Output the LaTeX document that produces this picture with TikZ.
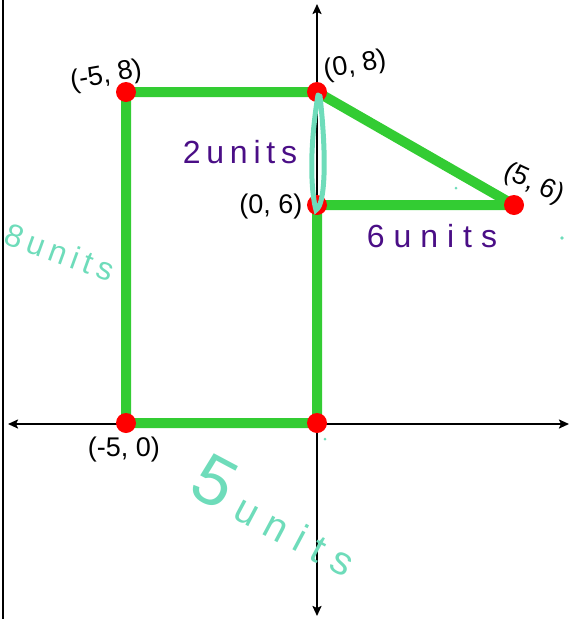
\documentclass[tikz,border=0pt]{standalone}
\usepackage{fontspec}
\setmainfont{Liberation Sans}
\newfontfamily\handfont[LetterSpace=18]{Liberation Sans}
\newfontfamily\widehand[LetterSpace=28]{Liberation Sans}
\usetikzlibrary{arrows.meta}
\definecolor{pgreen}{HTML}{33CC33}
\definecolor{pred}{HTML}{FF0000}
\definecolor{pteal}{HTML}{6EDCBA}
\definecolor{ppurple}{HTML}{4A0E86}

\begin{document}
\begin{tikzpicture}[x=1pt,y=-1pt,
    dot/.style={circle,fill=pred,inner sep=0pt,minimum size=20pt},
    side/.style={pgreen,line width=10pt,line join=round},
    axis/.style={{Stealth[length=10pt,width=9pt,inset=2pt]}-{Stealth[length=10pt,width=9pt,inset=2pt]},line width=2.4pt},
    lbl/.style={font=\fontsize{27}{32}\selectfont,inner sep=1pt},
    hand/.style={font=\handfont\fontsize{32}{36}\selectfont}]
  \useasboundingbox (0,0) rectangle (570,619);

  % Left edge
  \draw[line width=2.4pt] (3,0) -- (3,619);

  % Axes
  \coordinate (xl) at (8,424);
  \coordinate (xr) at (569,424);
  \coordinate (yt) at (317,4);
  \coordinate (yb) at (317,616);
  \draw[axis] (xl) -- (xr);
  \draw[axis] (yt) -- (yb);

  % Corners
  \coordinate (ptA) at (126,92);
  \coordinate (ptB) at (317,92);
  \coordinate (ptC) at (317,205);
  \coordinate (ptD) at (514,205);
  \coordinate (ptE) at (126,423);
  \coordinate (ptO) at (317,423);

  % Outline
  \draw[side] (ptB) -- (ptA) -- (ptE) -- (ptO) -- (ptC) -- (ptD) -- cycle;

  % Points
  \foreach \p in {ptA,ptB,ptC,ptD,ptE,ptO}
    \node[dot] (d\p) at (\p) {};

  % Point labels
  \node[lbl,rotate=10] (lA) at (106,76) {(-5, 8)};
  \node[lbl,rotate=10] (lB) at (355,66) {(0, 8)};
  \node[lbl] (lC) at (271,207) {(0, 6)};
  \node[lbl,rotate=-25] (lD) at (534,184) {(5, 6)};
  \node[lbl] (lE) at (124,450) {(-5, 0)};

  % Loop on the short side
  \draw[pteal,line width=5pt,line cap=round]
    (318,95) .. controls (309,150) and (311,192) .. (316,210)
    .. controls (325,205) and (327,160) .. (320,96);

  % Side lengths
  \node[hand,ppurple] (sB) at (240,152) {2units};
  \node[ppurple,font=\widehand\fontsize{32}{36}\selectfont] (sD) at (432,236) {6units};
  \node[hand,pteal,rotate=-20] (sA) at (60,252) {8units};
  \node[pteal,rotate=-28,font=\widehand] (sE) at (277,515)
    {\fontsize{70}{70}\selectfont 5\,\fontsize{40}{44}\selectfont units};

  % Stray marks
  \fill[pteal] (456,188) circle (1.5pt);
  \fill[pteal] (562,238) circle (1.8pt);
  \fill[pteal] (325,439) circle (1.5pt);
\end{tikzpicture}
\end{document}
